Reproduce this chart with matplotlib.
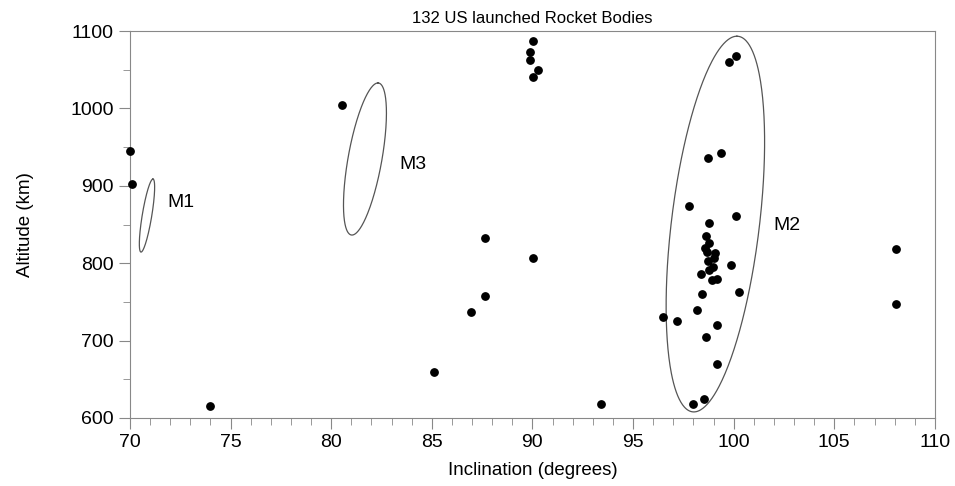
import numpy as np
import matplotlib.pyplot as plt

plt.rcParams['font.family'] = ['Liberation Sans', 'DejaVu Sans']

# inclination (deg) / altitude (km) of the rocket bodies
incl = [70.0, 70.1, 73.97, 80.53, 85.1, 86.94, 87.64, 87.64,
        90.02, 89.9, 89.88, 90.27, 90.02, 90.02, 93.4,
        96.5, 97.16, 97.78, 100.1, 98.77, 98.6, 98.77, 98.57, 99.07,
        98.69, 99.02, 98.74, 98.95, 99.89, 98.78, 98.4, 99.15, 98.9,
        100.26, 98.45, 98.2, 99.18, 98.62, 99.17, 97.96, 98.53,
        99.76, 100.1, 99.37, 98.72, 108.06, 108.06]
alt = [945, 902, 615.5, 1004, 659.5, 737, 757.6, 832.6,
       1087, 1072.5, 1062.5, 1049.6, 1040.6, 807, 618,
       731, 725.7, 874.3, 861.4, 852.3, 835, 826.5, 819.2, 812.8,
       815, 806.3, 802.8, 795.5, 797.7, 791, 785.6, 779.6, 778.3,
       763.2, 760.2, 739.5, 720, 704.3, 669.8, 618.1, 624.5,
       1060, 1068, 942, 936, 818.3, 747.3]

# ellipses: name, centre (x, y), major half-vector (dx, dy), minor half-width in x, label pos
ell_names = ['M1', 'M3', 'M2']
ell_center = [(70.85, 861.6), (81.68, 934.7), (99.09, 850.6)]
ell_major = [(0.295, 47.2), (0.645, 98.3), (1.07, 242.8)]
ell_minor = [0.24, 0.85, 2.2]
label_pos = [(71.85, 879), (83.4, 927), (101.95, 849)]

fig = plt.figure(figsize=(9.55, 4.86), dpi=100)
ax = fig.add_axes([0.136, 0.14, 0.843, 0.796])

t = np.linspace(0, 2 * np.pi, 400)
for name, c, a, b, lp in zip(ell_names, ell_center, ell_major, ell_minor, label_pos):
    ex = c[0] + a[0] * np.cos(t) + b * np.sin(t)
    ey = c[1] + a[1] * np.cos(t)
    ax.plot(ex, ey, color='#555555', lw=0.9)
    ax.text(lp[0], lp[1], name, fontsize=14, va='center', ha='left')

ax.scatter(incl, alt, s=28, color='black', zorder=3, clip_on=False)

ax.set_xlim(70, 110)
ax.set_ylim(600, 1100)
ax.set_xticks(np.arange(70, 111, 5))
ax.set_xticks(np.arange(70, 111, 1), minor=True)
ax.set_yticks(np.arange(600, 1101, 100))
ax.set_yticks(np.arange(600, 1101, 50), minor=True)

for s in ax.spines.values():
    s.set_color('#888888')
ax.tick_params(which='both', direction='out', color='#888888', labelsize=14)
ax.tick_params(which='major', length=8)
ax.tick_params(which='minor', length=5)

ax.set_title('132 US launched Rocket Bodies', fontsize=12, pad=6)
ax.set_xlabel('Inclination (degrees)', fontsize=13.5, labelpad=8)
ax.set_ylabel('Altitude (km)', fontsize=13.5, labelpad=26)

fig.savefig('out.png', dpi=100)
